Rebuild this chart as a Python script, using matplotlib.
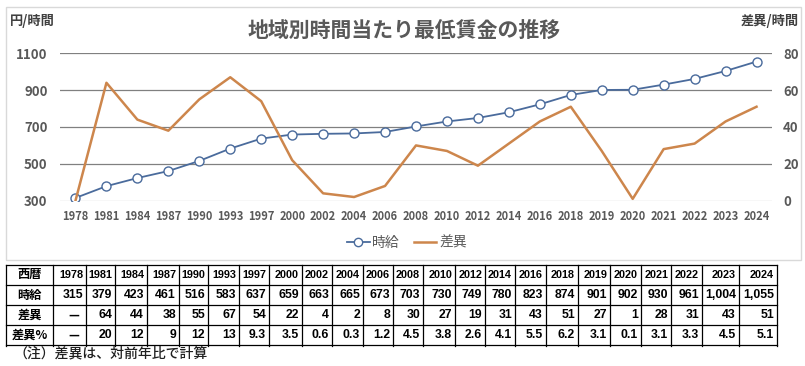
import matplotlib
matplotlib.use("Agg")
import matplotlib.pyplot as plt
from matplotlib.lines import Line2D
from matplotlib.patches import Rectangle

plt.rcParams['font.family'] = ['Noto Sans CJK JP', 'DejaVu Sans']

# ---------------- data ----------------
years = ["1978", "1981", "1984", "1987", "1990", "1993", "1997", "2000", "2002", "2004",
         "2006", "2008", "2010", "2012", "2014", "2016", "2018", "2019", "2020", "2021",
         "2022", "2023", "2024"]
wage = [315, 379, 423, 461, 516, 583, 637, 659, 663, 665, 673, 703, 730, 749, 780, 823,
        874, 901, 902, 930, 961, 1004, 1055]
diff = [None, 64, 44, 38, 55, 67, 54, 22, 4, 2, 8, 30, 27, 19, 31, 43, 51, 27, 1, 28,
        31, 43, 51]
diff_pct = [None, 20, 12, 9, 12, 13, 9.3, 3.5, 0.6, 0.3, 1.2, 4.5, 3.8, 2.6, 4.1, 5.5,
            6.2, 3.1, 0.1, 3.1, 3.3, 4.5, 5.1]
left_ticks = [300, 500, 700, 900, 1100]
right_ticks = [0, 20, 40, 60, 80]

title = "地域別時間当たり最低賃金の推移"
left_unit = "円/時間"
right_unit = "差異/時間"
series_names = ["時給", "差異"]
row_labels = ["西暦", "時給", "差異", "差異%"]
note = "（注）差異は、対前年比で計算"

BLUE = "#4a6b9c"
ORANGE = "#cd864c"
GRAY_TXT = "#595959"

W, H = 805, 366
fig = plt.figure(figsize=(W / 100, H / 100), dpi=100)

# background / frame / table canvas in pixel coords
bg = fig.add_axes([0, 0, 1, 1])
bg.set_xlim(0, W)
bg.set_ylim(H, 0)
bg.axis("off")
bg.add_patch(Rectangle((6, 7), 795, 253, fill=False, edgecolor="#d9d9d9", lw=1.0))

# ---------------- chart ----------------
x0, x1, ytop, ybot = 60, 772, 53.3, 200.7
ax = fig.add_axes([x0 / W, 1 - ybot / H, (x1 - x0) / W, (ybot - ytop) / H])
ax.set_zorder(2)
ax.patch.set_alpha(0)
xs = list(range(len(years)))
ax.set_xlim(-0.5, len(years) - 0.5)
ax.set_ylim(left_ticks[0], left_ticks[-1])
for t in left_ticks:
    if t == left_ticks[0]:
        ax.axhline(t, color="#d9d9d9", lw=1.0, zorder=0)
    else:
        ax.axhline(t, color="#808080", lw=0.9, zorder=0)
ax.plot(xs, wage, color=BLUE, lw=1.3, marker="o", ms=6.5, mfc="white", mec=BLUE,
        mew=1.0, zorder=3)
ax.set_yticks(left_ticks)
ax.set_xticks(xs)
ax.set_xticklabels(years)
for s in ax.spines.values():
    s.set_visible(False)
ax.tick_params(axis="y", length=0, pad=9, labelsize=9.5, labelcolor=GRAY_TXT)
ax.tick_params(axis="x", length=0, pad=7, labelsize=8, labelcolor=GRAY_TXT)
for lab in ax.get_yticklabels() + ax.get_xticklabels():
    lab.set_fontweight("bold")

ax2 = ax.twinx()
ax2.set_ylim(right_ticks[0], right_ticks[-1])
ax2.set_yticks(right_ticks)
diff_plot = [0 if d is None else d for d in diff]
ax2.plot(xs, diff_plot, color=ORANGE, lw=1.8, zorder=4)
for s in ax2.spines.values():
    s.set_visible(False)
ax2.tick_params(axis="y", length=0, pad=8, labelsize=9.5, labelcolor=GRAY_TXT)
for lab in ax2.get_yticklabels():
    lab.set_fontweight("bold")

# titles
fig.text(404 / W, 1 - 30 / H, title, ha="center", va="center", fontsize=15,
         fontweight="bold", color=GRAY_TXT)
fig.text(10 / W, 1 - 21 / H, left_unit, ha="left", va="center", fontsize=9.5,
         fontweight="bold", color="#404040")
fig.text(799 / W, 1 - 21 / H, right_unit, ha="right", va="center", fontsize=9.5,
         fontweight="bold", color="#404040")

# legend
handles = [Line2D([], [], color=BLUE, lw=1.3, marker="o", ms=6, mfc="white", mec=BLUE),
           Line2D([], [], color=ORANGE, lw=1.8)]
fig.legend(handles, series_names, loc="center", bbox_to_anchor=(407 / W, 1 - 243 / H),
           ncol=2, frameon=False, handlelength=1.6, handletextpad=0.2, columnspacing=1.0,
           prop={"size": 10}, labelcolor=GRAY_TXT)

# ---------------- table ----------------
col_edges = [6, 53, 86, 115, 147, 179, 208, 239, 269, 302, 332, 363, 393, 423, 455, 485,
             515, 546, 578, 610, 641, 671, 702, 739, 777]
row_edges = [264.5, 285, 305, 325, 345]
for y in row_edges:
    bg.plot([col_edges[0], col_edges[-1]], [y, y], color="black", lw=0.9)
for x in col_edges:
    bg.plot([x, x], [row_edges[0], row_edges[-1] + 1], color="black", lw=0.9)


def fmt_val(v, comma=False):
    if v is None:
        return "—"
    if comma:
        return f"{v:,}"
    return f"{v:g}"


rows = [years,
        [fmt_val(v, True) for v in wage],
        [fmt_val(v) for v in diff],
        [fmt_val(v) for v in diff_pct]]
for r in range(4):
    yc = (row_edges[r] + row_edges[r + 1]) / 2
    bg.text((col_edges[0] + col_edges[1]) / 2, yc, row_labels[r], ha="center",
            va="center", fontsize=8.8, fontweight="bold", color="black")
    for c in range(len(years)):
        txt = rows[r][c]
        xr = col_edges[c + 2] - 3
        fs = 7.8 if r == 0 else 8.8
        if txt == "—":
            bg.text((col_edges[c + 1] + col_edges[c + 2]) / 2 + 4, yc, txt, ha="center",
                    va="center", fontsize=8.5, fontweight="bold", color="black")
        else:
            bg.text(xr, yc, txt, ha="right", va="center", fontsize=fs,
                    fontweight="bold", color="black", family="Liberation Sans")

bg.text(13, 353, note, ha="left", va="center", fontsize=10, fontweight="medium",
        color="#202020")

fig.savefig("out.png", dpi=100)
